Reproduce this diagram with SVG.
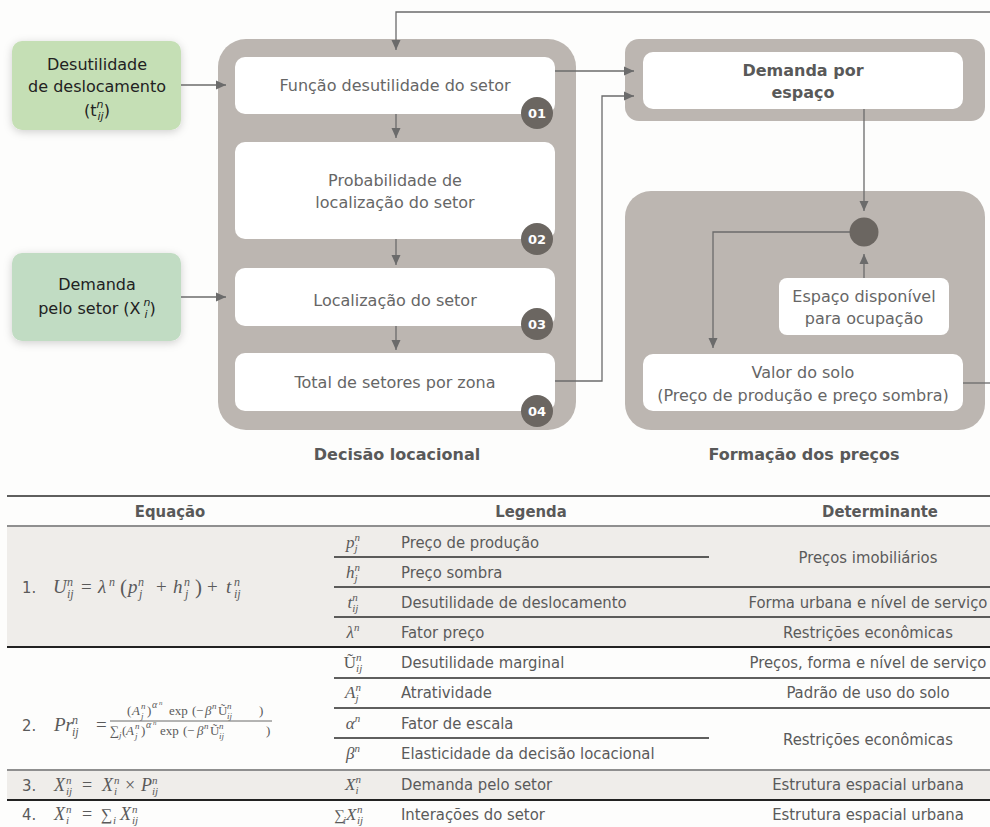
<svg xmlns="http://www.w3.org/2000/svg" width="990" height="827" viewBox="0 0 990 827">
<defs>
<marker id="ah" viewBox="0 0 10 10" refX="10" refY="5" markerWidth="10" markerHeight="10" markerUnits="userSpaceOnUse" orient="auto">
<path d="M0,0.5 L10,5 L0,9.5 Z" fill="#6b6b6b"/>
</marker>
<filter id="sh" x="-20%" y="-20%" width="140%" height="150%">
<feDropShadow dx="0" dy="2" stdDeviation="4" flood-color="#000" flood-opacity="0.18"/>
</filter>
<style>
.cont{fill:#bcb6b1}
.wb{fill:#ffffff}
.bt{font-family:"DejaVu Sans",Verdana,sans-serif;font-size:16px;fill:#666;text-anchor:middle}
.gt{font-family:"DejaVu Sans",Verdana,sans-serif;font-size:16px;fill:#222;text-anchor:middle}
.bold{font-family:"DejaVu Sans",Verdana,sans-serif;font-size:16px;font-weight:bold;fill:#595959;text-anchor:middle}
.badge circle{fill:#6b6661}
.badge text{font-family:"DejaVu Sans",Verdana,sans-serif;font-size:13px;font-weight:bold;fill:#fff;text-anchor:middle}
.conn path{fill:none;stroke:#6b6b6b;stroke-width:1.3}
.tt{font-family:"DejaVu Sans Condensed","DejaVu Sans",sans-serif;font-stretch:condensed;font-size:16.5px;fill:#5a5a5a}
.th{font-family:"DejaVu Sans Condensed","DejaVu Sans",sans-serif;font-stretch:condensed;font-size:16.5px;font-weight:bold;fill:#595959;text-anchor:middle}
.mid{text-anchor:middle}
.m{font-family:"Liberation Serif","DejaVu Serif",serif;font-style:italic;fill:#5a5a5a}
.up{font-style:normal}
.s{font-size:12px}
.s9{font-size:9px}
.s11{font-size:11px}
.shade{fill:#efedea}
.ld{stroke:#2a2a2a;stroke-width:1.4}
.lt{stroke:#222;stroke-width:2.2}
.lg{stroke:#8f8f8f;stroke-width:2}
</style>
</defs>
<rect width="990" height="827" fill="#fdfdfc"/>

<!-- Containers -->
<g id="decisao-locacional">
<rect class="cont" x="218" y="39" width="358" height="391" rx="28"/>
<text class="bold" x="397" y="460">Decisão locacional</text>
</g>
<g id="demanda-container">
<rect class="cont" x="625" y="39" width="360" height="82" rx="14"/>
</g>
<g id="formacao-precos">
<rect class="cont" x="625" y="191" width="360" height="239" rx="26"/>
<text class="bold" x="804" y="460">Formação dos preços</text>
</g>

<!-- Green input nodes -->
<g id="desutilidade-deslocamento">
<rect x="12" y="41" width="169" height="89" rx="10" fill="#c5dfb5" filter="url(#sh)"/>
<text class="gt" x="97" y="70">Desutilidade</text>
<text class="gt" x="97" y="92">de deslocamento</text>
<text class="gt" x="97" y="116">(t<tspan font-size="11" font-style="italic" dy="-8">n</tspan><tspan font-size="11" font-style="italic" dx="-6" dy="12">ij</tspan><tspan dy="-4">)</tspan></text>
</g>
<g id="demanda-setor">
<rect x="12" y="253" width="169" height="88" rx="10" fill="#c1dcc3" filter="url(#sh)"/>
<text class="gt" x="97" y="290">Demanda</text>
<text class="gt" x="97" y="314">pelo setor (X<tspan font-size="11" font-style="italic" dx="3" dy="-8">n</tspan><tspan font-size="11" font-style="italic" dx="-6" dy="12">i</tspan><tspan dy="-4" dx="2">)</tspan></text>
</g>

<!-- Decision steps -->
<g id="step-01">
<rect class="wb" x="235" y="57" width="320" height="57" rx="10"/>
<text class="bt" x="395" y="91">Função desutilidade do setor</text>
<g class="badge"><circle cx="537" cy="113" r="16"/><text x="537" y="118">01</text></g>
</g>
<g id="step-02">
<rect class="wb" x="235" y="142" width="320" height="97" rx="10"/>
<text class="bt" x="395" y="186">Probabilidade de</text>
<text class="bt" x="395" y="208">localização do setor</text>
<g class="badge"><circle cx="537" cy="239" r="16"/><text x="537" y="244">02</text></g>
</g>
<g id="step-03">
<rect class="wb" x="235" y="268" width="320" height="58" rx="10"/>
<text class="bt" x="395" y="306">Localização do setor</text>
<g class="badge"><circle cx="537" cy="324" r="16"/><text x="537" y="329">03</text></g>
</g>
<g id="step-04">
<rect class="wb" x="235" y="353" width="320" height="58" rx="10"/>
<text class="bt" x="395" y="388">Total de setores por zona</text>
<g class="badge"><circle cx="537" cy="411" r="16"/><text x="537" y="416">04</text></g>
</g>

<!-- Price formation nodes -->
<g id="demanda-espaco">
<rect class="wb" x="643" y="52" width="320" height="57" rx="10"/>
<text class="bold" x="803" y="76">Demanda por</text>
<text class="bold" x="803" y="98">espaço</text>
</g>
<g id="juncao">
<circle cx="864" cy="232" r="14.5" fill="#6b6661"/>
</g>
<g id="espaco-disponivel">
<rect class="wb" x="779" y="278" width="170" height="57" rx="8"/>
<text class="bt" x="864" y="302">Espaço disponível</text>
<text class="bt" x="864" y="324">para ocupação</text>
</g>
<g id="valor-solo">
<rect class="wb" x="643" y="354" width="320" height="57" rx="10"/>
<text class="bt" x="803" y="378">Valor do solo</text>
<text class="bt" x="803" y="401">(Preço de produção e preço sombra)</text>
</g>

<!-- Connectors -->
<g id="connectors" class="conn">
<path d="M181,85 H226" marker-end="url(#ah)"/>
<path d="M181,297 H226" marker-end="url(#ah)"/>
<path d="M990,12 H396 V50" marker-end="url(#ah)"/>
<path d="M396,114 V138" marker-end="url(#ah)"/>
<path d="M396,239 V265" marker-end="url(#ah)"/>
<path d="M396,326 V350" marker-end="url(#ah)"/>
<path d="M555,71 H634" marker-end="url(#ah)"/>
<path d="M555,381 H602 V96 H634" marker-end="url(#ah)"/>
<path d="M864,109 V211" marker-end="url(#ah)"/>
<path d="M864,278 V254" marker-end="url(#ah)"/>
<path d="M850,232 H713 V348" marker-end="url(#ah)"/>
<path d="M963,383 H990"/>
</g>

<!-- Table -->
<g id="tabela">
<rect class="shade" x="7" y="526" width="983" height="121"/>
<rect class="shade" x="7" y="770" width="983" height="30"/>
<line class="ld" x1="7" y1="496" x2="990" y2="496"/>
<line class="lg" x1="7" y1="526" x2="990" y2="526"/>
<line class="ld" x1="334" y1="557" x2="709" y2="557"/>
<line class="ld" x1="334" y1="587" x2="990" y2="587"/>
<line class="ld" x1="334" y1="617" x2="990" y2="617"/>
<line class="lt" x1="7" y1="647" x2="990" y2="647"/>
<line class="ld" x1="334" y1="678" x2="990" y2="678"/>
<line class="ld" x1="334" y1="708" x2="990" y2="708"/>
<line class="ld" x1="334" y1="738" x2="709" y2="738"/>
<line class="lg" x1="7" y1="770" x2="990" y2="770"/>
<line class="lt" x1="7" y1="800" x2="990" y2="800"/>

<text class="th" x="170" y="517">Equação</text>
<text class="th" x="531" y="517">Legenda</text>
<text class="th" x="880" y="517">Determinante</text>

<!-- Equation 1 -->
<text class="tt" x="22" y="593">1.</text>
<text class="m" y="593" font-size="19"><tspan x="53">U</tspan><tspan class="s" x="67" y="586">n</tspan><tspan class="s" x="67" y="598">ij</tspan><tspan class="up" x="81" y="593">=</tspan><tspan x="98">λ</tspan><tspan class="s" x="109" y="586">n</tspan><tspan class="up" x="120" y="594" font-size="21">(</tspan><tspan x="128" y="593">p</tspan><tspan class="s" x="138" y="586">n</tspan><tspan class="s" x="139" y="598">j</tspan><tspan class="up" x="156" y="593">+</tspan><tspan x="173">h</tspan><tspan class="s" x="184" y="586">n</tspan><tspan class="s" x="185" y="598">j</tspan><tspan class="up" x="195" y="594" font-size="21">)</tspan><tspan class="up" x="207" y="593">+</tspan><tspan x="226">t</tspan><tspan class="s" x="234" y="586">n</tspan><tspan class="s" x="234" y="598">ij</tspan></text>

<!-- Equation 2 -->
<text class="tt" x="22" y="731">2.</text>
<text class="m" y="731" font-size="19"><tspan x="54">Pr</tspan><tspan class="s" x="72" y="724">n</tspan><tspan class="s" x="72" y="736">ij</tspan><tspan class="up" x="96" y="731">=</tspan></text>
<text class="m" y="715" font-size="13"><tspan class="up" x="127">(</tspan><tspan x="132">A</tspan><tspan class="s9" x="141" y="709">n</tspan><tspan class="s9" x="141" y="719">j</tspan><tspan class="up" x="147" y="715">)</tspan><tspan x="152" y="708" font-size="10">α</tspan><tspan x="159" y="705" font-size="7">n</tspan><tspan class="up" x="169" y="715">exp</tspan><tspan class="up" x="192">(</tspan><tspan class="up" x="196">−</tspan><tspan x="205">β</tspan><tspan class="s9" x="212" y="709">n</tspan><tspan class="up" x="218" y="715">Ũ</tspan><tspan class="s9" x="227" y="709">n</tspan><tspan class="s9" x="227" y="719">ij</tspan><tspan class="up" x="259" y="715">)</tspan></text>
<line x1="110" y1="721" x2="272" y2="721" stroke="#5a5a5a" stroke-width="0.9"/>
<text class="m" y="735" font-size="13"><tspan class="up" x="110">∑</tspan><tspan class="s9" x="119" y="738">j</tspan><tspan class="up" x="122" y="735">(</tspan><tspan x="126">A</tspan><tspan class="s9" x="135" y="729">n</tspan><tspan class="s9" x="135" y="739">j</tspan><tspan class="up" x="141" y="735">)</tspan><tspan x="146" y="728" font-size="10">α</tspan><tspan x="153" y="725" font-size="7">n</tspan><tspan class="up" x="160" y="735">exp</tspan><tspan class="up" x="183">(</tspan><tspan class="up" x="187">−</tspan><tspan x="197">β</tspan><tspan class="s9" x="204" y="729">n</tspan><tspan class="up" x="210" y="735">Ũ</tspan><tspan class="s9" x="219" y="729">n</tspan><tspan class="s9" x="219" y="739">ij</tspan><tspan class="up" x="266" y="735">)</tspan></text>

<!-- Equation 3 -->
<text class="tt" x="22" y="791">3.</text>
<text class="m" y="791" font-size="18"><tspan x="54">X</tspan><tspan class="s11" x="66" y="784">n</tspan><tspan class="s11" x="66" y="795">ij</tspan><tspan class="up" x="82" y="791">=</tspan><tspan x="102">X</tspan><tspan class="s11" x="114" y="784">n</tspan><tspan class="s11" x="114" y="795">i</tspan><tspan class="up" x="125" y="791">×</tspan><tspan x="141">P</tspan><tspan class="s11" x="152" y="784">n</tspan><tspan class="s11" x="152" y="795">ij</tspan></text>

<!-- Equation 4 -->
<text class="tt" x="22" y="820">4.</text>
<text class="m" y="820" font-size="18"><tspan x="54">X</tspan><tspan class="s11" x="66" y="813">n</tspan><tspan class="s11" x="66" y="824">i</tspan><tspan class="up" x="82" y="820">=</tspan><tspan class="up" x="101" font-size="16">∑</tspan><tspan class="s11" x="113" y="824">i</tspan><tspan x="120" y="820">X</tspan><tspan class="s11" x="132" y="813">n</tspan><tspan class="s11" x="132" y="824">ij</tspan></text>

<!-- Legend symbols -->
<g font-size="17">
<text class="m mid" x="353" y="548">p<tspan font-size="11" dy="-7">n</tspan><tspan font-size="11" dx="-5.5" dy="11">j</tspan></text>
<text class="m mid" x="353" y="578">h<tspan font-size="11" dy="-7">n</tspan><tspan font-size="11" dx="-5.5" dy="11">j</tspan></text>
<text class="m mid" x="353" y="608">t<tspan font-size="11" dy="-7">n</tspan><tspan font-size="11" dx="-5.5" dy="11">ij</tspan></text>
<text class="m mid" x="353" y="638">λ<tspan font-size="11" dy="-7">n</tspan></text>
<text class="m mid" x="353" y="668"><tspan class="up">Ũ</tspan><tspan font-size="11" dy="-7">n</tspan><tspan font-size="11" dx="-5.5" dy="11">ij</tspan></text>
<text class="m mid" x="353" y="698">A<tspan font-size="11" dy="-7">n</tspan><tspan font-size="11" dx="-5.5" dy="11">j</tspan></text>
<text class="m mid" x="353" y="729">α<tspan font-size="11" dy="-7">n</tspan></text>
<text class="m mid" x="353" y="759">β<tspan font-size="11" dy="-7">n</tspan></text>
<text class="m mid" x="353" y="790">X<tspan font-size="11" dy="-7">n</tspan><tspan font-size="11" dx="-5.5" dy="11">i</tspan></text>
<text class="m" y="820"><tspan class="up" x="334" font-size="15">∑</tspan><tspan font-size="11" x="343" y="824">i</tspan><tspan x="346" y="820">X</tspan><tspan font-size="11" x="357" y="813">n</tspan><tspan font-size="11" x="357" y="824">ij</tspan></text>
</g>

<!-- Legend text -->
<text class="tt" x="401" y="548">Preço de produção</text>
<text class="tt" x="401" y="578">Preço sombra</text>
<text class="tt" x="401" y="608">Desutilidade de deslocamento</text>
<text class="tt" x="401" y="638">Fator preço</text>
<text class="tt" x="401" y="668">Desutilidade marginal</text>
<text class="tt" x="401" y="698">Atratividade</text>
<text class="tt" x="401" y="729">Fator de escala</text>
<text class="tt" x="401" y="759">Elasticidade da decisão locacional</text>
<text class="tt" x="401" y="790">Demanda pelo setor</text>
<text class="tt" x="401" y="820">Interações do setor</text>

<!-- Determinante -->
<text class="tt mid" x="868" y="563">Preços imobiliários</text>
<text class="tt mid" x="868" y="608">Forma urbana e nível de serviço</text>
<text class="tt mid" x="868" y="638">Restrições econômicas</text>
<text class="tt mid" x="868" y="668">Preços, forma e nível de serviço</text>
<text class="tt mid" x="868" y="698">Padrão de uso do solo</text>
<text class="tt mid" x="868" y="745">Restrições econômicas</text>
<text class="tt mid" x="868" y="790">Estrutura espacial urbana</text>
<text class="tt mid" x="868" y="820">Estrutura espacial urbana</text>
</g>
</svg>
